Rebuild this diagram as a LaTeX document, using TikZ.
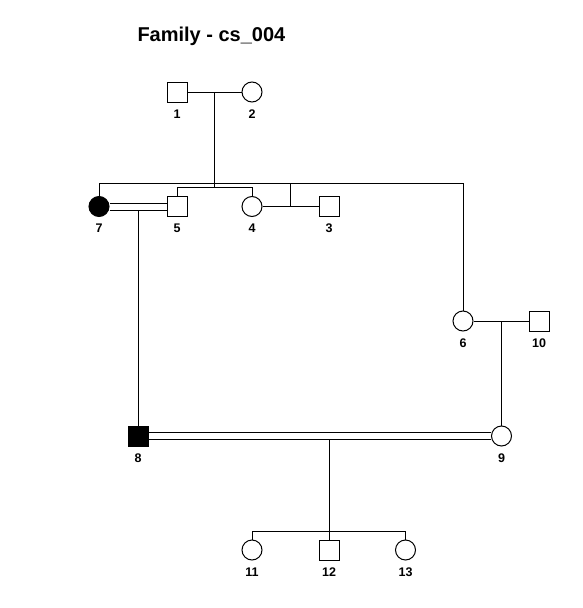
\documentclass[tikz,border=0pt]{standalone}
\usepackage{fontspec}
\setmainfont{Liberation Sans}
\begin{document}
\begin{tikzpicture}[x=1pt,y=-1pt,line width=1pt,
  male/.style={draw,rectangle,minimum size=20pt,inner sep=0pt,fill=white},
  female/.style={draw,circle,minimum size=20pt,inner sep=0pt,fill=white},
  aff/.style={fill=black},
  idlab/.style={font=\bfseries\fontsize{12.5}{14}\selectfont,inner sep=0pt}]
\useasboundingbox (0,0) rectangle (582,608);
\node[font=\bfseries\fontsize{20}{24}\selectfont,anchor=base west,inner sep=0pt] (title) at (137,41.7) {Family - cs\_004};
% junction points
\coordinate (s1) at (214,187);
\coordinate (s1a) at (177,187);
\coordinate (s1b) at (252,187);
\coordinate (c34) at (290,206.5);
\coordinate (s2) at (290,183);
\coordinate (s2a) at (99,183);
\coordinate (s2b) at (463,183);
\coordinate (c610) at (501.5,321);
\coordinate (c78) at (138,210);
\coordinate (c89) at (329,439);
\coordinate (s3) at (329,531.5);
\coordinate (s3a) at (252,531.5);
\coordinate (s3b) at (405.5,531.5);
\coordinate (m12) at (214,92);
% nodes
\node[male] (n1) at (177,92) {};
\node[female] (n2) at (252,92) {};
\node[female,aff] (n7) at (99,206.5) {};
\node[male] (n5) at (177,206.5) {};
\node[female] (n4) at (252,206.5) {};
\node[male] (n3) at (329,206.5) {};
\node[female] (n6) at (463,321) {};
\node[male] (n10) at (539,321) {};
\node[male,aff] (n8) at (138,436) {};
\node[female] (n9) at (501.5,436) {};
\node[female] (n11) at (252,550) {};
\node[male] (n12) at (329,550) {};
\node[female] (n13) at (405.5,550) {};
% labels
\foreach \n/\t in {n1/1,n2/2,n7/7,n5/5,n4/4,n3/3,n6/6,n10/10,n8/8,n9/9,n11/11,n12/12,n13/13}
  \node[idlab] (l\n) at ([yshift=-22pt]\n.center) {\t};
% connectors
\draw (n1.east) -- (n2.west);
\draw (m12) -- (s1);
\draw (s1a) -- (s1b);
\draw (s1a) -- (n5.north);
\draw (s1b) -- (n4.north);
\draw (n4.east) -- (n3.west);
\draw (c34) -- (s2);
\draw (s2a) -- (s2b);
\draw (s2a) -- (n7.north);
\draw (s2b) -- (n6.north);
\draw ([yshift=3.2pt]n7.east) -- ([yshift=3.2pt]n5.west);
\draw ([yshift=-3.5pt]n7.east) -- ([yshift=-3.5pt]n5.west);
\draw (c78) -- (n8.north);
\draw (n6.east) -- (n10.west);
\draw (c610) -- (n9.north);
\draw ([yshift=3.5pt]n8.east) -- ([yshift=3.5pt]n9.west);
\draw ([yshift=-3.2pt]n8.east) -- ([yshift=-3.2pt]n9.west);
\draw (c89) -- (s3);
\draw (s3a) -- (s3b);
\draw (s3a) -- (n11.north);
\draw (s3) -- (n12.north);
\draw (s3b) -- (n13.north);
\end{tikzpicture}
\end{document}
